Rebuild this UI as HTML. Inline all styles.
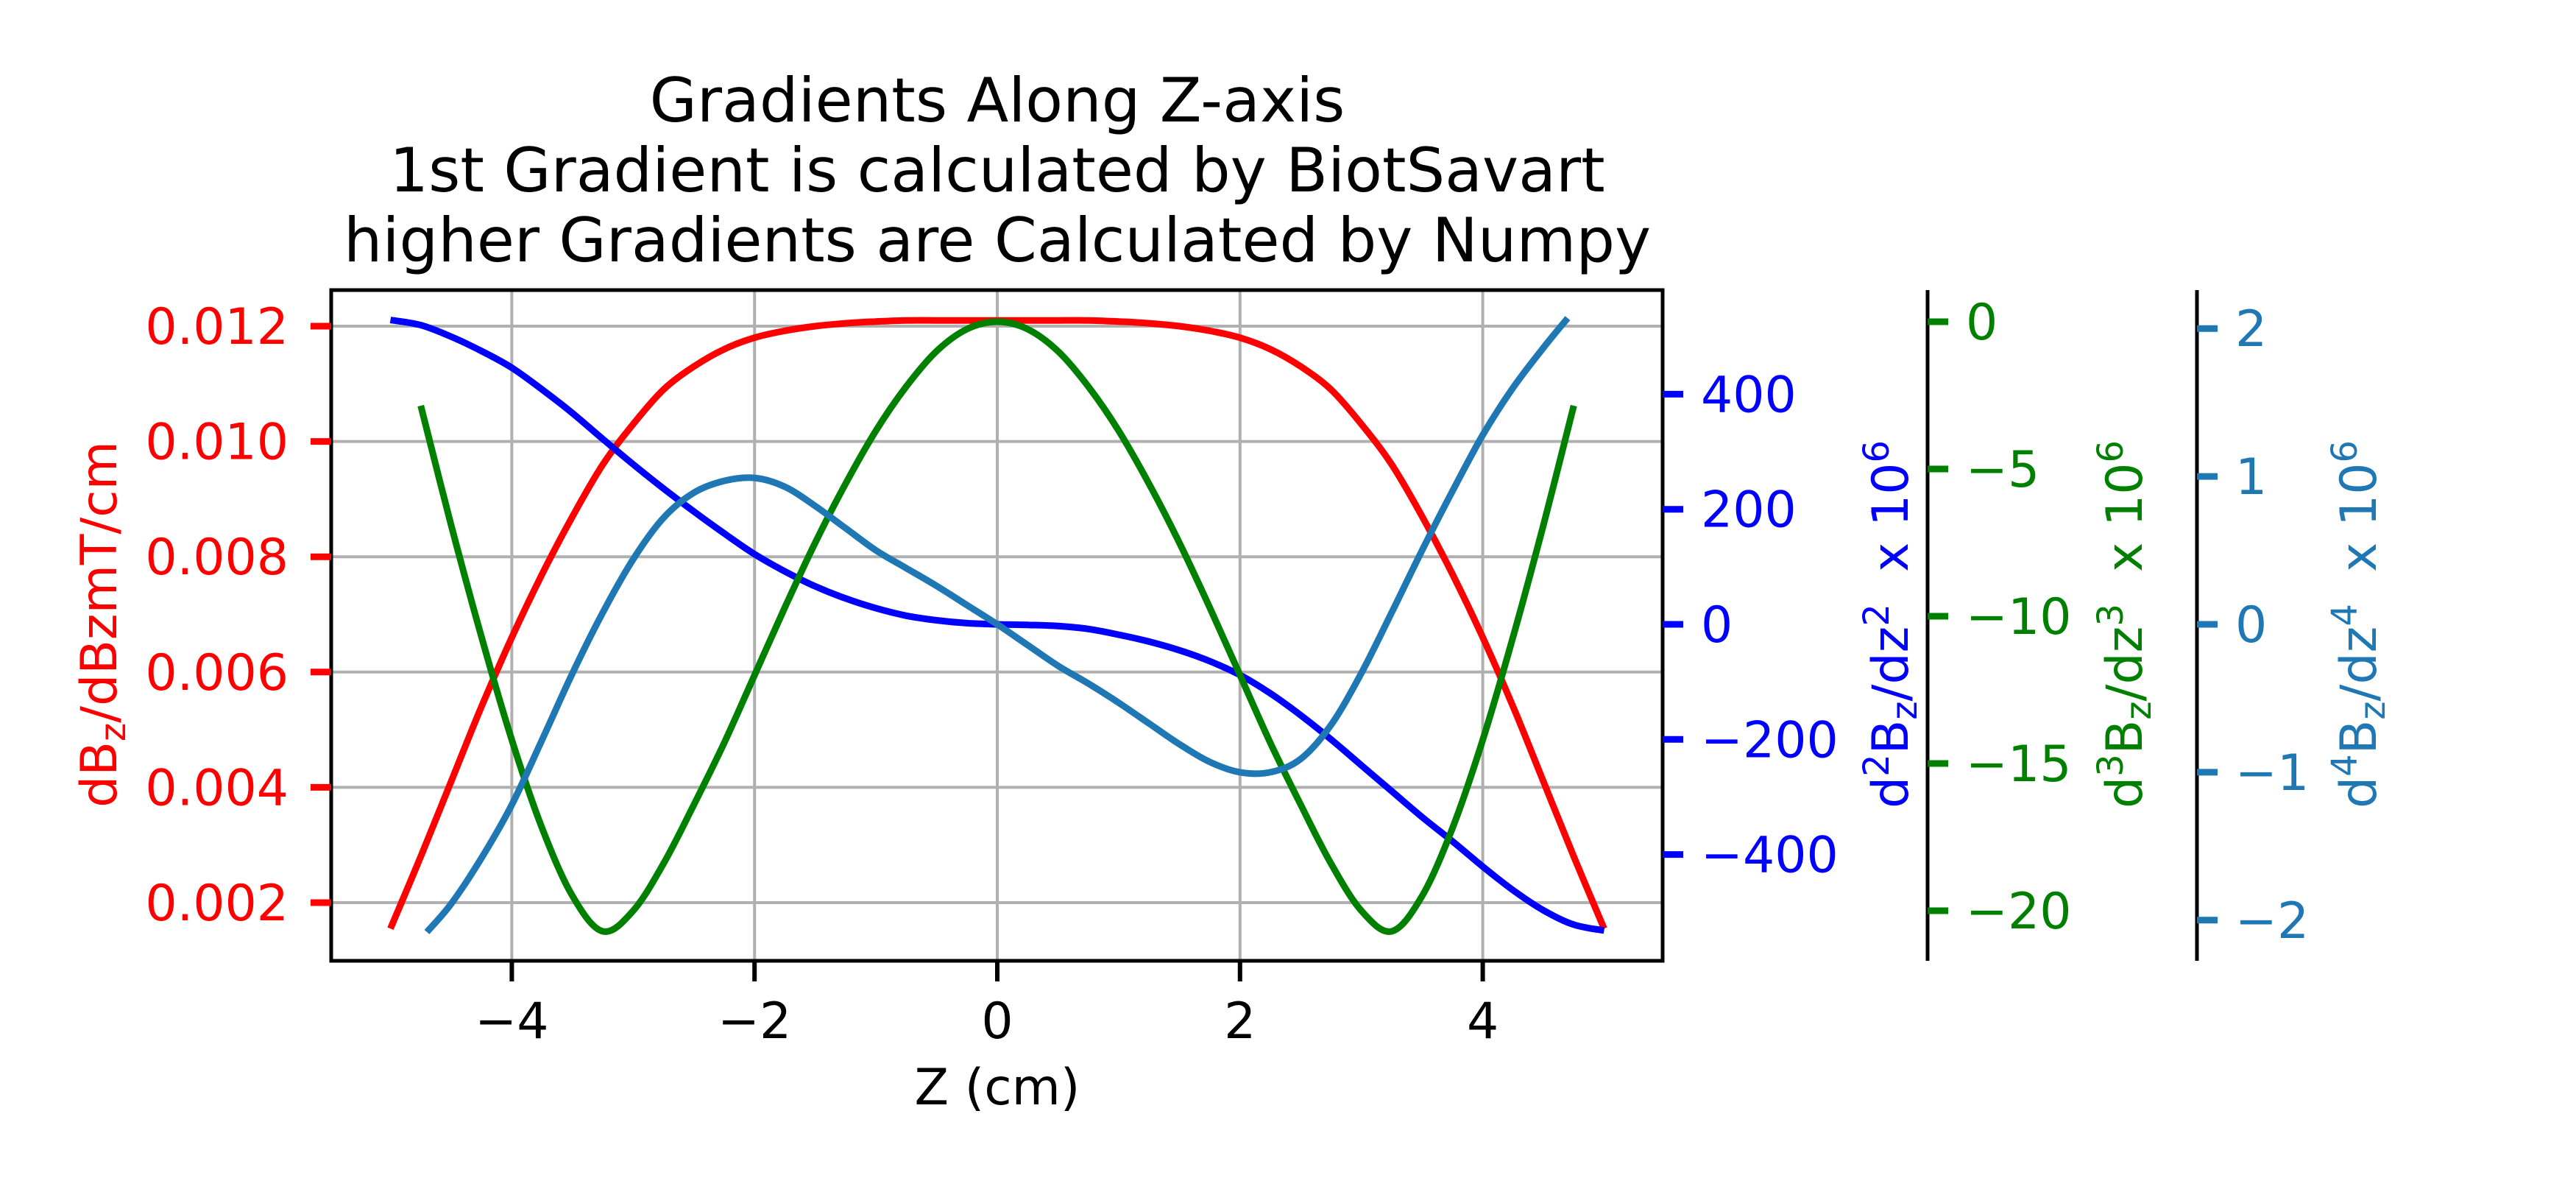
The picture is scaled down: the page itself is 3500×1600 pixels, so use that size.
<!DOCTYPE html>
<html><head><meta charset="utf-8"><style>
html,body{margin:0;padding:0;background:#fff;}
svg{display:block;font-family:"DejaVu Sans","Liberation Sans",sans-serif;}
</style></head><body>
<svg id="chart" width="3500" height="1600" viewBox="0 0 3500 1600" xmlns="http://www.w3.org/2000/svg">
<rect width="3500" height="1600" fill="#fff"/>
<g font-size="83" text-anchor="middle" fill="#000">
<text x="1355" y="165">Gradients Along Z-axis</text>
<text x="1355" y="260">1st Gradient is calculated by BiotSavart</text>
<text x="1355" y="355">higher Gradients are Calculated by Numpy</text>
</g>
<g id="grid"></g>
<g id="series"></g>
<rect x="450" y="394" width="1809" height="911" fill="none" stroke="#000" stroke-width="5"/>
<g id="axes"></g>
<text x="1355" y="1500" font-size="68" text-anchor="middle">Z (cm)</text>
<text transform="translate(158,848) rotate(-90)" font-size="68" text-anchor="middle" fill="#ff0000">dB<tspan font-size="48" dy="12">z</tspan><tspan dy="-12">/dBzmT/cm</tspan></text>
<text transform="translate(2592,848) rotate(-90)" font-size="68" text-anchor="middle" fill="#0000ff">d<tspan font-size="48" dy="-26">2</tspan><tspan dy="26">B</tspan><tspan font-size="48" dy="12">z</tspan><tspan dy="-12">/dz</tspan><tspan font-size="48" dy="-26">2</tspan><tspan dy="26" xml:space="preserve">  x 10</tspan><tspan font-size="48" dy="-26">6</tspan></text>
<text transform="translate(2910,848) rotate(-90)" font-size="68" text-anchor="middle" fill="#008000">d<tspan font-size="48" dy="-26">3</tspan><tspan dy="26">B</tspan><tspan font-size="48" dy="12">z</tspan><tspan dy="-12">/dz</tspan><tspan font-size="48" dy="-26">3</tspan><tspan dy="26" xml:space="preserve">  x 10</tspan><tspan font-size="48" dy="-26">6</tspan></text>
<text transform="translate(3228,848) rotate(-90)" font-size="68" text-anchor="middle" fill="#1f77b4">d<tspan font-size="48" dy="-26">4</tspan><tspan dy="26">B</tspan><tspan font-size="48" dy="12">z</tspan><tspan dy="-12">/dz</tspan><tspan font-size="48" dy="-26">4</tspan><tspan dy="26" xml:space="preserve">  x 10</tspan><tspan font-size="48" dy="-26">6</tspan></text>
</svg>
<script>
const zFull = [-5,-4.75,-4.5,-4.25,-4,-3.75,-3.5,-3.25,-3,-2.75,-2.5,-2.25,-2,-1.75,-1.5,-1.25,-1,-0.75,-0.5,-0.25,0,0.25,0.5,0.75,1,1.25,1.5,1.75,2,2.25,2.5,2.75,3,3.25,3.5,3.75,4,4.25,4.5,4.75,5];
const d1Values = [0.00155,0.0028,0.0041,0.0054,0.0066,0.0077,0.0087,0.0096,0.0103,0.0109,0.0113,0.0116,0.0118,0.01192,0.0120,0.01205,0.01208,0.0121,0.0121,0.0121,0.0121,0.0121,0.0121,0.0121,0.01208,0.01205,0.0120,0.01192,0.0118,0.0116,0.0113,0.0109,0.0103,0.0096,0.0087,0.0077,0.0066,0.0054,0.0041,0.0028,0.00155];
const d2Values = [529,520,500,475,446,408,367,322,278,236,196,158,122,92,66,45,28,15,7,2,0,-1,-3,-8,-18,-30,-45,-64,-88,-120,-158,-200,-245,-290,-335,-377,-421,-462,-497,-522,-532];
const zD3 = [-4.75,-4.5,-4.25,-4,-3.75,-3.5,-3.25,-3,-2.75,-2.5,-2.25,-2,-1.75,-1.5,-1.25,-1,-0.75,-0.5,-0.25,0,0.25,0.5,0.75,1,1.25,1.5,1.75,2,2.25,2.5,2.75,3,3.25,3.5,3.75,4,4.25,4.5,4.75];
const d3Values = [-2.85,-6.9,-10.7,-14.2,-17.2,-19.5,-20.7,-20.0,-18.4,-16.4,-14.3,-12.0,-9.7,-7.5,-5.5,-3.7,-2.2,-1.0,-0.25,0,-0.25,-1.0,-2.2,-3.7,-5.5,-7.5,-9.7,-12.0,-14.3,-16.4,-18.4,-20.0,-20.7,-19.5,-17.2,-14.2,-10.7,-6.9,-2.85];
const zD4 = [-4.7,-4.5,-4.25,-4,-3.75,-3.5,-3.25,-3,-2.75,-2.5,-2.25,-2,-1.75,-1.5,-1.25,-1,-0.75,-0.5,-0.25,0,0.25,0.5,0.75,1,1.25,1.5,1.75,2,2.25,2.5,2.75,3,3.25,3.5,3.75,4,4.25,4.5,4.7];
const d4Values = [-2.08,-1.89,-1.58,-1.22,-0.78,-0.33,0.08,0.44,0.72,0.89,0.97,0.99,0.93,0.80,0.65,0.50,0.38,0.26,0.13,0,-0.14,-0.28,-0.40,-0.53,-0.67,-0.81,-0.93,-1.0,-1.0,-0.91,-0.68,-0.33,0.08,0.5,0.9,1.28,1.6,1.87,2.07];
const xTicks = [-4,-2,0,2,4];
const xTickLabels = ["\u22124","\u22122","0","2","4"];
const d1Ticks = [0.002,0.004,0.006,0.008,0.010,0.012];
const d1TickLabels = ["0.002","0.004","0.006","0.008","0.010","0.012"];
const d2Ticks = [-400,-200,0,200,400];
const d2TickLabels = ["\u2212400","\u2212200","0","200","400"];
const d3Ticks = [-20,-15,-10,-5,0];
const d3TickLabels = ["\u221220","\u221215","\u221210","\u22125","0"];
const d4Ticks = [-2,-1,0,1,2];
const d4TickLabels = ["\u22122","\u22121","0","1","2"];

const NS = "http://www.w3.org/2000/svg";
const L = 450, R = 2259, T = 394, B = 1305;
function xPos(z){ return 1355 + z*164.9; }
function y1(v){ return 443 + (0.012 - v)/0.002*156.6; }
function y2(v){ return 848 - v*0.7815; }
function y3(v){ return 437 - v*40.0; }
function y4(v){ return 848 - v*200.9; }
function mk(tag, attrs, parent){
  const e = document.createElementNS(NS, tag);
  for (const k in attrs) e.setAttribute(k, attrs[k]);
  parent.appendChild(e);
  return e;
}
const grid = document.getElementById('grid');
const series = document.getElementById('series');
const axes = document.getElementById('axes');

xTicks.forEach(function(t){
  const g = mk('line', {x1:xPos(t), x2:xPos(t), y1:T, y2:B, stroke:'#b0b0b0', 'stroke-width':4}, grid);
  
  
});
d1Ticks.forEach(function(t){
  const g = mk('line', {x1:L, x2:R, y1:y1(t), y2:y1(t), stroke:'#b0b0b0', 'stroke-width':4}, grid);
  
  
});

function smoothPath(P){
  let d = 'M' + P[0][0].toFixed(1) + ',' + P[0][1].toFixed(1);
  for (let i = 0; i < P.length - 1; i++){
    const p0 = P[i-1] || P[i], p1 = P[i], p2 = P[i+1], p3 = P[i+2] || P[i+1];
    const c1x = p1[0] + (p2[0]-p0[0])/6, c1y = p1[1] + (p2[1]-p0[1])/6;
    const c2x = p2[0] - (p3[0]-p1[0])/6, c2y = p2[1] - (p3[1]-p1[1])/6;
    d += ' C' + c1x.toFixed(1)+','+c1y.toFixed(1)+' '+c2x.toFixed(1)+','+c2y.toFixed(1)+' '+p2[0].toFixed(1)+','+p2[1].toFixed(1);
  }
  return d;
}
function drawLine(xs, vs, yf, color, name){
  const P = xs.map(function(z,i){ return [xPos(z), yf(vs[i])]; });
  const p = mk('path', {d:smoothPath(P), fill:'none', stroke:color, 'stroke-width':9, 'stroke-linejoin':'round'}, series);
  
  
}
drawLine(zFull, d1Values, y1, '#ff0000', 'line-d1');
drawLine(zFull, d2Values, y2, '#0000ff', 'line-d2');
drawLine(zD3, d3Values, y3, '#008000', 'line-d3');
drawLine(zD4, d4Values, y4, '#1f77b4', 'line-d4');

xTicks.forEach(function(t,i){
  const tk = mk('line', {x1:xPos(t), x2:xPos(t), y1:B, y2:B+28, stroke:'#000', 'stroke-width':6}, axes);
  
  
  const tx = mk('text', {x:xPos(t), y:1410, 'font-size':68, 'text-anchor':'middle', fill:'#000'}, axes);
  tx.textContent = xTickLabels[i];
  
  
});

function yAxis(ticks, labels, yf, spineX, color, name, left, drawSpine){
  if (drawSpine){
    const s = mk('line', {x1:spineX, x2:spineX, y1:T, y2:B, stroke:'#000', 'stroke-width':5}, axes);
    
    
  }
  ticks.forEach(function(t,i){
    const y = yf(t);
    const tk = mk('line', {x1:spineX, x2:left ? spineX-28 : spineX+28, y1:y, y2:y, stroke:color, 'stroke-width':9}, axes);
    
    
    const tx = mk('text', {x:left ? spineX-58 : spineX+52, y:y+24, 'font-size':68, 'text-anchor':left?'end':'start', fill:color}, axes);
    tx.textContent = labels[i];
    
    
  });
}
yAxis(d1Ticks, d1TickLabels, y1, L, '#ff0000', 'y-axis-d1', true, false);
yAxis(d2Ticks, d2TickLabels, y2, R, '#0000ff', 'y-axis-d2', false, false);
yAxis(d3Ticks, d3TickLabels, y3, 2619, '#008000', 'y-axis-d3', false, true);
yAxis(d4Ticks, d4TickLabels, y4, 2985, '#1f77b4', 'y-axis-d4', false, true);
</script>
</body></html>
